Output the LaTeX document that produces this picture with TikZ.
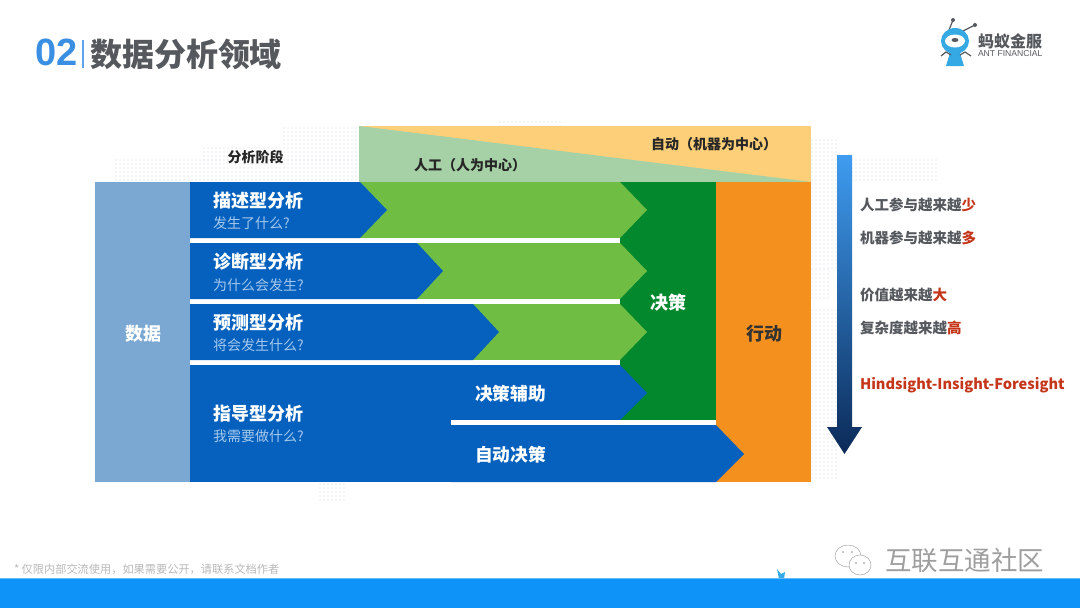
\documentclass[tikz,border=0pt]{standalone}
\usepackage{fontspec}
\setmainfont{Noto Sans CJK SC}
\newfontfamily\latinfont{Liberation Sans}
\usetikzlibrary{positioning}
\definecolor{databg}{HTML}{7BA8D3}
\definecolor{anablue}{HTML}{0561BD}
\definecolor{anagreen}{HTML}{70BD44}
\definecolor{decgreen}{HTML}{03882E}
\definecolor{actorange}{HTML}{F4911E}
\definecolor{autobg}{HTML}{FDCF78}
\definecolor{manualbg}{HTML}{A6D1A6}
\definecolor{subblue}{HTML}{A5C8EE}
\definecolor{titleblue}{HTML}{3A8FE3}
\definecolor{titlegray}{HTML}{55595E}
\definecolor{notered}{HTML}{C4351A}
\definecolor{arrowtop}{HTML}{3F9CF0}
\definecolor{arrowbot}{HTML}{0B2A58}
\definecolor{barblue}{HTML}{0E93F8}
\definecolor{baredge}{HTML}{63BBFB}
\definecolor{logoblue}{HTML}{35A9E4}
\definecolor{dotgray}{HTML}{E8EAEC}

\begin{document}
\begin{tikzpicture}[
    x=1pt, y=-1pt,
    every node/.style={inner sep=0pt, outer sep=0pt},
    anahead/.style={font=\fontsize{18}{18}\selectfont\bfseries, text=white, anchor=west},
    anasub/.style={font=\fontsize{14}{14}\selectfont, text=subblue, anchor=west},
    blocklabel/.style={font=\fontsize{18}{18}\selectfont\bfseries, text=white},
    modelabel/.style={font=\fontsize{17.7}{17.7}\selectfont\bfseries, text=white, anchor=west},
    toplabel/.style={font=\fontsize{14}{14}\selectfont\bfseries, text=black!85, anchor=west},
    notelabel/.style={font=\fontsize{14.5}{14.5}\selectfont\bfseries, text=titlegray, anchor=west},
    eyedot/.style={fill=black!45},
]
\useasboundingbox (0,0) rectangle (1080,608);

%% ============ DOTTED MAP BACKGROUND ============
\foreach \xa/\xb/\ya/\yb in {
    116/360/160/182, 204/360/148/160, 284/356/128/146,
    812/836/140/270, 852/936/160/182, 812/836/310/480, 320/345/484/500,
    500/560/122/125, 812/828/270/300} {
    \foreach \dx in {\xa,\the\numexpr\xa+4\relax,...,\xb} {
        \foreach \dy in {\ya,\the\numexpr\ya+4\relax,...,\yb} {
            \fill[dotgray] (\dx,\dy) circle (0.8);
        }
    }
}

%% ============ TITLE AND LOGO ============
\node[font=\latinfont\fontsize{38}{38}\selectfont\bfseries, text=titleblue, anchor=west] (secno) at (35,52) {02};
\fill[titleblue!80] (82,40) rectangle (84,68);
\node[font=\fontsize{32}{32}\selectfont\bfseries, text=titlegray, anchor=west] (title) at (90,54) {数据分析领域};

\draw[titlegray, line width=1.2pt] (949,30) -- (953,20);
\draw[titlegray, line width=1.2pt] (961,32) -- (975,25);
\fill[titlegray] (953,20) circle (2) (975,25) circle (2);
\fill[logoblue] (955,41) ellipse (14 and 13);
\fill[white] (955,41) ellipse (10 and 6.5);
\fill[titlegray] (955,40) ellipse (3.5 and 2);
\fill[logoblue] (950,53) -- (960,53) -- (964,66) -- (946,66) -- cycle;
\draw[titlegray, line width=1.2pt] (941,56) -- (946,52) -- (951,55);
\draw[titlegray, line width=1.2pt] (971,56) -- (965,52) -- (960,55);
\node[font=\fontsize{16}{16}\selectfont\bfseries, text=titlegray, anchor=west] (logoname) at (978,41) {蚂蚁金服};
\node[font=\latinfont\fontsize{8.6}{8.6}\selectfont, text=titlegray, anchor=west] (logoen) at (978,54) {ANT FINANCIAL};

%% ============ HEADER BAND ============
\fill[autobg] (359,126) rectangle (811,182);
\fill[manualbg] (359,126) -- (811,182) -- (359,182) -- cycle;
\node[font=\fontsize{14}{14}\selectfont\bfseries, text=black!85] (stage) at (255.5,157) {分析阶段};
\node[toplabel] (manual) at (414,165.5) {人工（人为中心）};
\node[toplabel] (auto) at (651,144) {自动（机器为中心）};

%% ============ MAIN BLOCKS ============
\fill[databg] (95,182) rectangle (190,482);
\fill[actorange] (716,182) rectangle (811,482);
\fill[decgreen] (620,182) rectangle (716,420);

%% light green rows, then blue rows on top
\foreach \ya/\ym/\yb in {182/210/238, 243/271/299, 304/332/360} {
    \fill[anagreen] (300,\ya) -- (620,\ya) -- (647,\ym) -- (620,\yb) -- (300,\yb) -- cycle;
}
\fill[white] (190,238) rectangle (620,243);
\fill[white] (190,299) rectangle (620,304);
\fill[white] (190,360) rectangle (620,365);

\fill[anablue] (190,182) -- (360,182) -- (387,210) -- (360,238) -- (190,238) -- cycle;
\fill[anablue] (190,243) -- (417,243) -- (443,271) -- (417,299) -- (190,299) -- cycle;
\fill[anablue] (190,304) -- (473,304) -- (499,332) -- (473,360) -- (190,360) -- cycle;
\fill[anablue] (190,365) rectangle (452,482);
\fill[anablue] (451,365) -- (620,365) -- (647,393) -- (620,420) -- (451,420) -- cycle;
\fill[anablue] (451,425) -- (716,425) -- (744,454) -- (716,482) -- (451,482) -- cycle;
\fill[white] (451,420) rectangle (716,425);

\node[blocklabel] (data) at (143,333.5) {数据};
\node[blocklabel] (decide) at (668,302.5) {决策};
\node[blocklabel, text=black!80] (act) at (764,333.5) {行动};

\node[anahead] (desc) at (213,201) {描述型分析};
\node[anasub] (descq) at (213,223.5) {发生了什么?};
\node[anahead] (diag) at (213,262) {诊断型分析};
\node[anasub] (diagq) at (213,285) {为什么会发生?};
\node[anahead] (pred) at (213,323) {预测型分析};
\node[anasub] (predq) at (213,345.5) {将会发生什么?};
\node[anahead] (presc) at (213,414) {指导型分析};
\node[anasub] (prescq) at (213,436.5) {我需要做什么?};
\node[modelabel] (assist) at (475,394) {决策辅助};
\node[modelabel] (autodec) at (475,455) {自动决策};

%% ============ RIGHT COLUMN ============
\shade[top color=arrowtop, bottom color=arrowbot]
    (837,155) -- (852,155) -- (852,427) -- (862,427) -- (844.5,454)
    -- (827,427) -- (837,427) -- cycle;

\node[notelabel] (lessman) at (860,204.5) {人工参与越来越\textcolor{notered}{少}};
\node[notelabel] (moremach) at (860,237.5) {机器参与越来越\textcolor{notered}{多}};
\node[notelabel] (value) at (860,295.5) {价值越来越\textcolor{notered}{大}};
\node[notelabel] (complex) at (860,327.5) {复杂度越来越\textcolor{notered}{高}};
\node[font=\fontsize{14.6}{14.6}\selectfont\bfseries, text=notered, anchor=west] (hindsight) at (860,385) {Hindsight-Insight-Foresight};

%% ============ FOOTER ============
\fill[logoblue] (777,569) -- (781,574) -- (785,572) -- (784,579) -- (779,579) -- cycle;
\fill[barblue] (0,578) rectangle (1080,608);
\fill[baredge] (0,578) rectangle (1080,579);
\node[font=\fontsize{11.2}{11.2}\selectfont, text=black!28, anchor=west] (disclaimer) at (14,569) {* 仅限内部交流使用，如果需要公开，请联系文档作者};

\draw[black!35, line width=0.5pt, fill=white] (848,556) ellipse (13 and 11);
\draw[black!35, line width=0.5pt, fill=white] (860,565) ellipse (11 and 10);
\fill[eyedot] (843,552) circle (0.9) (852,552) circle (0.9) (856,563) circle (0.9) (864,563) circle (0.9);
\node[font=\fontsize{26.5}{26.5}\selectfont, text=black!38, anchor=west] (wechat) at (885,560.5) {互联互通社区};

\end{tikzpicture}
\end{document}
